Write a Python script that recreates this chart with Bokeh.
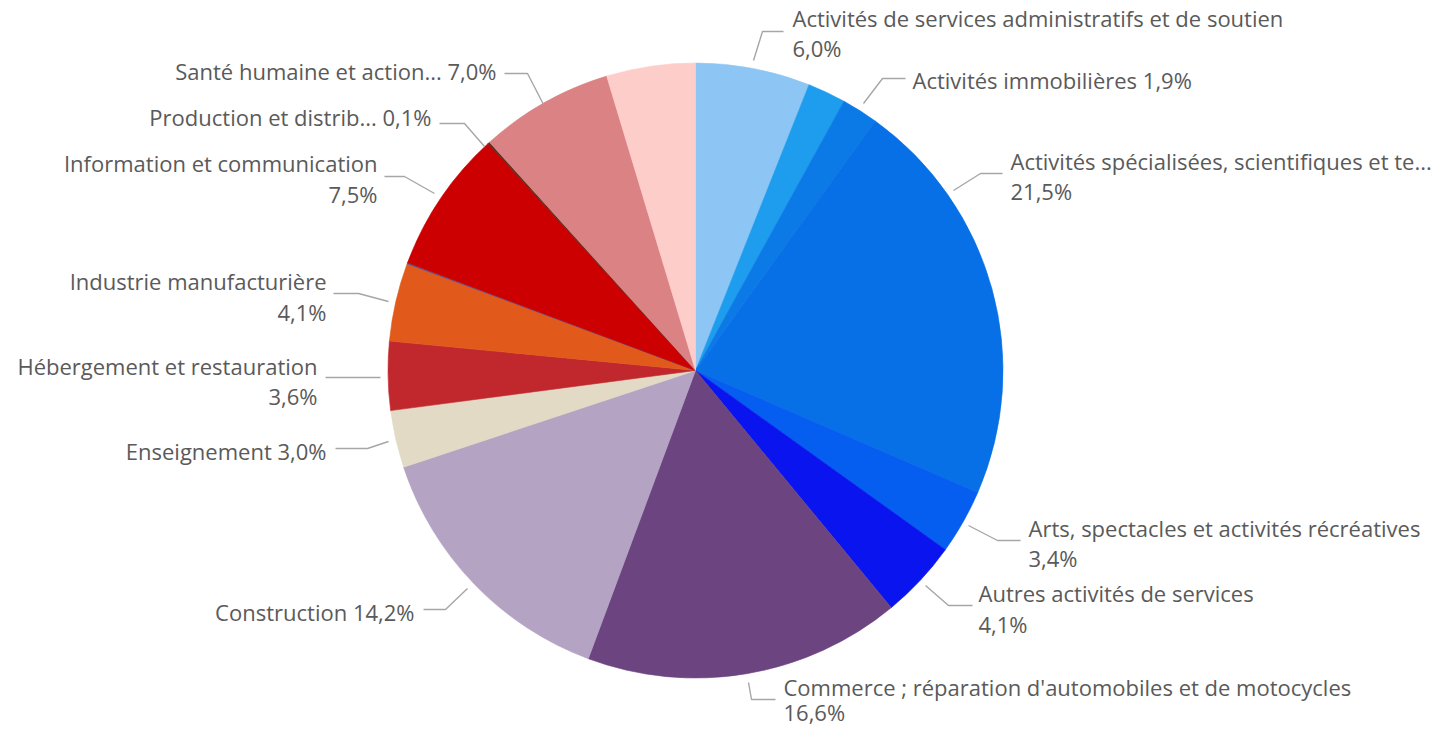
import math
from bokeh.plotting import figure
from bokeh.models import ColumnDataSource, Range1d
from bokeh.core.properties import value
from bokeh.embed import file_html
from bokeh.resources import INLINE

# ---------------- data ----------------
categories = [
    "Activités de services administratifs et de soutien",
    "Activités financières et d'assurance",
    "Activités immobilières",
    "Activités spécialisées, scientifiques et techniques",
    "Arts, spectacles et activités récréatives",
    "Autres activités de services",
    "Commerce ; réparation d'automobiles et de motocycles",
    "Construction",
    "Enseignement",
    "Hébergement et restauration",
    "Industrie manufacturière",
    "Industries extractives",
    "Information et communication",
    "Production et distribution d'électricité",
    "Santé humaine et action sociale",
    "Transports et entreposage",
]
shares = [6.0, 2.0, 1.9, 21.5, 3.4, 4.1, 16.6, 14.2, 3.0, 3.6, 4.1, 0.05, 7.5, 0.1, 7.0, 4.65]
# label text as displayed (truncated like the original); None = label hidden
display_names = [
    "Activités de services administratifs et de soutien",
    None,
    "Activités immobilières",
    "Activités spécialisées, scientifiques et te...",
    "Arts, spectacles et activités récréatives",
    "Autres activités de services",
    "Commerce ; réparation d'automobiles et de motocycles",
    "Construction",
    "Enseignement",
    "Hébergement et restauration",
    "Industrie manufacturière",
    None,
    "Information et communication",
    "Production et distrib...",
    "Santé humaine et action...",
    None,
]
colors = [
    "#8DC6F4", "#1E9CEE", "#0B79E6", "#0870E6", "#055EF0", "#0A14EE",
    "#6C4580", "#B4A3C3", "#E2DAC5", "#C1282E", "#E15A1B", "#3A5AB0",
    "#CC0000", "#5B2B1F", "#DB8285", "#FDCDCA",
]

# ---------------- layout (pixel positions, top-left origin) ----------------
W, H = 1436, 728
REF_H = 744
CX, CY, R = 695, 370, 307.5

# per labelled slice: side, leader polyline, text anchor x, line centres y
label_layout = {
    0: ("R", [(753, 60), (762, 31), (783, 31)], 792, [17, 47]),
    2: ("R", [(863, 103), (882, 78), (905, 78)], 912, [79]),
    3: ("R", [(953, 190), (980, 173), (1002, 173)], 1010, [160, 190]),
    4: ("R", [(968, 525), (997, 540), (1020, 540)], 1028, [527, 557]),
    5: ("R", [(925, 585), (948, 605), (972, 605)], 978, [592, 623]),
    6: ("R", [(748, 682), (751, 699), (775, 699)], 783, [686, 711]),
    7: ("L", [(467, 588), (445, 609), (423, 609)], 414, [611]),
    8: ("L", [(388, 441), (367, 448), (335, 448)], 326, [450]),
    9: ("L", [(380, 377), (352, 377), (325, 377)], 317, [365, 395]),
    10: ("L", [(388, 301), (358, 293), (333, 293)], 326, [280, 311]),
    12: ("L", [(434, 193), (404, 176), (384, 176)], 377, [162, 193]),
    13: ("L", [(484, 146), (464, 123), (439, 123)], 431, [116]),
    14: ("L", [(543, 104), (527, 73), (504, 73)], 496, [70]),
}

def fy(Y):
    return REF_H - Y

p = figure(width=W, height=H, output_backend="svg", toolbar_location=None,
           x_range=Range1d(0, W), y_range=Range1d(REF_H - H, REF_H),
           x_axis_type=None, y_axis_type=None, min_border=0)
p.grid.visible = False
p.outline_line_color = None
p.background_fill_color = "white"
p.border_fill_color = "white"

total = sum(shares)
starts, ends = [], []
cum = 0.0
for v in shares:
    c0 = cum / total
    cum += v
    c1 = cum / total
    starts.append(math.pi / 2 - 2 * math.pi * c1)
    ends.append(math.pi / 2 - 2 * math.pi * c0)

src = ColumnDataSource(dict(start=starts, end=ends, color=colors, cat=categories, share=shares))
p.wedge(x=CX, y=fy(CY), radius=R, start_angle="start", end_angle="end",
        direction="anticlock", fill_color="color", line_color="color",
        line_width=0.6, source=src)

# leaders
xs, ys = [], []
for i, (side, pts, tx, lys) in label_layout.items():
    xs.append([q[0] for q in pts])
    ys.append([fy(q[1]) for q in pts])
p.multi_line(xs=xs, ys=ys, line_color="#A6A6A6", line_width=1.4)

# labels
def pct(v):
    return f"{v:.1f}".replace(".", ",") + "%"

L = dict(x=[], y=[], t=[])
Rr = dict(x=[], y=[], t=[])
for i, (side, pts, tx, lys) in label_layout.items():
    name = display_names[i]
    if len(lys) == 2:
        lines = [name, pct(shares[i])]
    else:
        lines = [name + " " + pct(shares[i])]
    d = Rr if side == "R" else L
    for ln, ly in zip(lines, lys):
        d["x"].append(tx)
        d["y"].append(fy(ly))
        d["t"].append(ln)

common = dict(text_font=value("Open Sans"), text_font_size="22px",
              text_color="#5A5A5A", text_baseline="middle")
p.text(x="x", y="y", text="t", source=ColumnDataSource(Rr), text_align="left", **common)
p.text(x="x", y="y", text="t", source=ColumnDataSource(L), text_align="right", **common)

open("out.html", "w").write(file_html(p, INLINE))
